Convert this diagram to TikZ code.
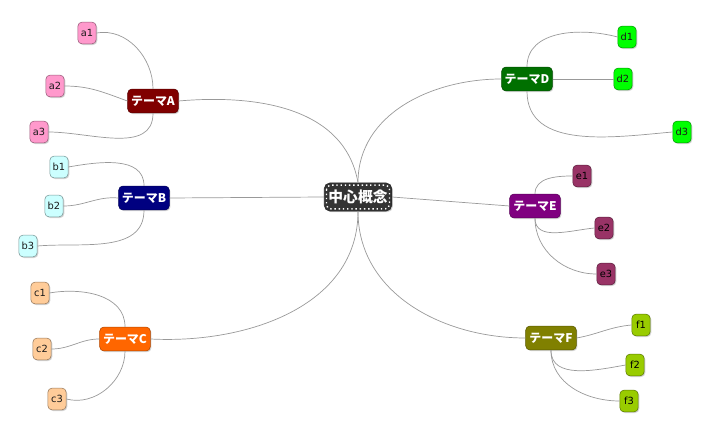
\documentclass[tikz,border=0pt]{standalone}
\usepackage{fontspec}
\setmainfont{DejaVu Sans}
\newfontfamily\jpfont{Noto Sans CJK JP}
\usetikzlibrary{shadows}
\definecolor{coregray}{HTML}{333333}
\definecolor{linkgray}{HTML}{999999}
\definecolor{leaftext}{HTML}{1A1A1A}
\definecolor{themeA}{HTML}{800000}
\definecolor{themeB}{HTML}{000080}
\definecolor{themeC}{HTML}{FF6600}
\definecolor{themeD}{HTML}{007000}
\definecolor{themeE}{HTML}{800080}
\definecolor{themeF}{HTML}{808000}
\definecolor{leafA}{HTML}{FF99CC}
\definecolor{leafB}{HTML}{CCFFFF}
\definecolor{leafC}{HTML}{FFCC99}
\definecolor{leafD}{HTML}{00FF00}
\definecolor{leafE}{HTML}{993366}
\definecolor{leafF}{HTML}{99CC00}

\begin{document}
\begin{tikzpicture}[
        x=0.025cm, y=-0.025cm,
        link/.style={draw=linkgray, line width=0.5pt},
        base/.style={rounded corners=3pt, inner sep=0pt,
            drop shadow={shadow xshift=0.8pt, shadow yshift=-0.8pt, opacity=0.35}},
        theme/.style={base, draw=#1!70!black, fill=#1, minimum width=36pt, minimum height=17pt,
            text=white, font=\jpfont\bfseries\fontsize{8.5}{8.5}\selectfont},
        leaf/.style={base, draw=#1!60!black, fill=#1, minimum width=13pt, minimum height=15.5pt,
            text=leaftext, font=\fontsize{7}{7}\selectfont},
        core/.style={base, draw=coregray!80!black, fill=coregray, rounded corners=4pt,
            minimum width=48pt, minimum height=20pt, text=white,
            font=\jpfont\bfseries\fontsize{10.5}{10.5}\selectfont}
    ]
        \useasboundingbox (0,0) rectangle (712,432);

        % center
        \node[core] (core) at (358,197) {中心概念};
        \draw[white, dotted, line width=1pt, rounded corners=3pt]
            ([shift={(1.8pt,-1.8pt)}]core.north west) rectangle ([shift={(-1.8pt,1.8pt)}]core.south east);

        % themes
        \node[theme=themeA] (A) at (153,101) {テーマA};
        \node[theme=themeB] (B) at (144,198) {テーマB};
        \node[theme=themeC] (C) at (125,339) {テーマC};
        \node[theme=themeD] (D) at (527,79) {テーマD};
        \node[theme=themeE] (E) at (535,206) {テーマE};
        \node[theme=themeF] (F) at (551,338) {テーマF};

        % leaves
        \node[leaf=leafA] (a1) at (87,33) {a1};
        \node[leaf=leafA] (a2) at (55,86) {a2};
        \node[leaf=leafA] (a3) at (39,132) {a3};
        \node[leaf=leafB] (b1) at (59,167) {b1};
        \node[leaf=leafB] (b2) at (54,206) {b2};
        \node[leaf=leafB] (b3) at (28,246) {b3};
        \node[leaf=leafC] (c1) at (40,293) {c1};
        \node[leaf=leafC] (c2) at (42,349) {c2};
        \node[leaf=leafC] (c3) at (57,399) {c3};
        \node[leaf=leafD] (d1) at (627,37) {d1};
        \node[leaf=leafD] (d2) at (623,79) {d2};
        \node[leaf=leafD] (d3) at (682,132) {d3};
        \node[leaf=leafE, text=black] (e1) at (582,176) {e1};
        \node[leaf=leafE, text=black] (e2) at (604,228) {e2};
        \node[leaf=leafE, text=black] (e3) at (606,274) {e3};
        \node[leaf=leafF, text=black] (f1) at (641,325) {f1};
        \node[leaf=leafF, text=black] (f2) at (635,365) {f2};
        \node[leaf=leafF, text=black] (f3) at (629,401) {f3};

        % center to themes
        \draw[link] (A.east) to[out=5, in=100] (core.north);
        \draw[link] (core.north) to[out=90, in=180] (D.west);
        \draw[link] (B.east) -- (core.west);
        \draw[link] (C.east) to[out=-3, in=-90] (core.south);
        \draw[link] (core.east) -- (E.west);
        \draw[link] (core.south) to[out=-90, in=180] (F.west);

        % themes to leaves
        \draw[link] (A.north) to[out=90, in=10] (a1.east);
        \draw[link] (A.west) to[out=160, in=0] (a2.east);
        \draw[link] (A.south) to[out=-90, in=0] (a3.east);
        \draw[link] (B.north) to[out=90, in=10] (b1.east);
        \draw[link] (B.west) to[out=175, in=0] (b2.east);
        \draw[link] (B.south) to[out=-90, in=5] (b3.east);
        \draw[link] (C.north) to[out=90, in=10] (c1.east);
        \draw[link] (C.west) to[out=180, in=0] (c2.east);
        \draw[link] (C.south) to[out=-90, in=-15] (c3.east);
        \draw[link] (D.north) to[out=90, in=165] (d1.west);
        \draw[link] (D.east) -- (d2.west);
        \draw[link] (D.south) to[out=-90, in=185] (d3.west);
        \draw[link] (E.north) to[out=90, in=180] (e1.west);
        \draw[link] (E.south) to[out=-90, in=185] (e2.west);
        \draw[link] (E.south) to[out=-90, in=180] (e3.west);
        \draw[link] (F.east) to[out=10, in=185] (f1.west);
        \draw[link] (F.south) to[out=-90, in=190] (f2.west);
        \draw[link] (F.south) to[out=-90, in=180] (f3.west);
    \end{tikzpicture}
\end{document}
